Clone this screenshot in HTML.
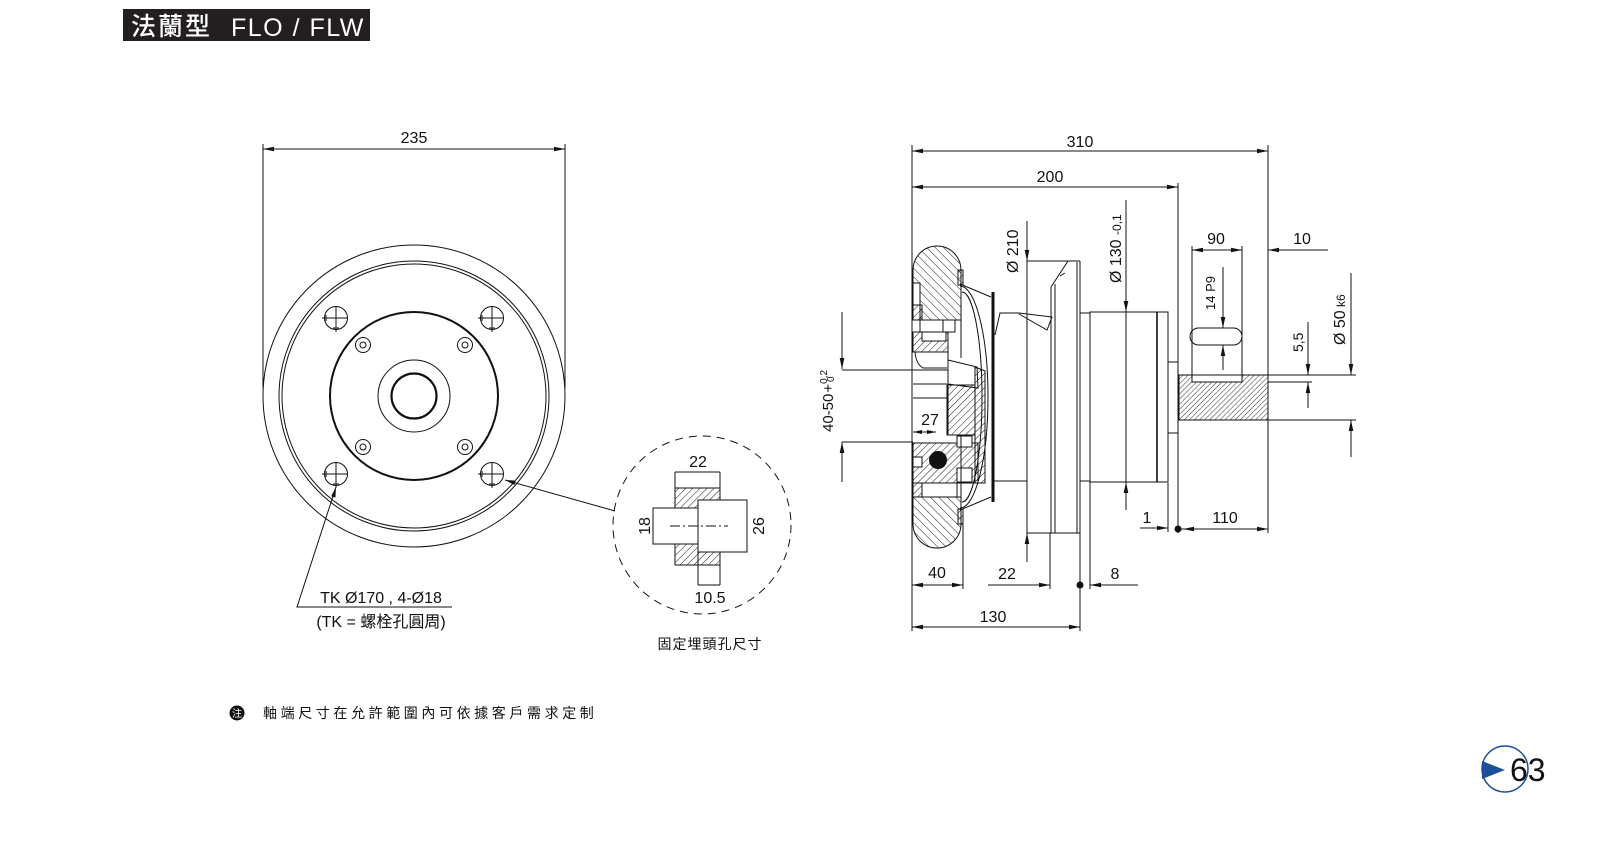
<!DOCTYPE html>
<html><head><meta charset="utf-8"><style>
html,body{margin:0;padding:0;background:#fff;}
svg{display:block;}
text{font-family:"Liberation Sans","Noto Sans CJK TC",sans-serif;fill:#111;stroke:none;}
</style></head><body>
<svg width="1600" height="852" viewBox="0 0 1600 852" xmlns="http://www.w3.org/2000/svg">
<defs>
<pattern id="ha" patternUnits="userSpaceOnUse" width="5" height="5" patternTransform="rotate(45)"><line x1="0" y1="0" x2="0" y2="5" stroke="#000" stroke-width="0.9"/></pattern>
<pattern id="hb" patternUnits="userSpaceOnUse" width="6" height="6" patternTransform="rotate(-45)"><line x1="0" y1="0" x2="0" y2="6" stroke="#000" stroke-width="0.9"/></pattern>
<pattern id="hc" patternUnits="userSpaceOnUse" width="3.6" height="3.6" patternTransform="rotate(45)"><line x1="0" y1="0" x2="0" y2="3.6" stroke="#000" stroke-width="0.8"/></pattern>
</defs>
<rect width="1600" height="852" fill="#fff"/>

<!-- Title -->
<rect x="123" y="9" width="247" height="32" fill="#231f20"/>
<text x="131" y="35" font-size="25" style="fill:#fff;font-family:'Noto Sans CJK TC',sans-serif;font-weight:500" letter-spacing="2">法蘭型</text>
<text x="231" y="36" font-size="25" style="fill:#fff" letter-spacing="1.5">FLO / FLW</text>

<g fill="none" stroke="#111" stroke-width="1">
<!-- ===== LEFT VIEW ===== -->
<line x1="263" y1="149" x2="565" y2="149"/>
<line x1="263" y1="144" x2="263" y2="388"/>
<line x1="565" y1="144" x2="565" y2="388"/>
<circle cx="414" cy="396" r="151"/>
<circle cx="414" cy="396" r="135"/>
<circle cx="414" cy="396" r="132"/>
<circle cx="414" cy="396" r="84" stroke-width="2"/>
<circle cx="414" cy="396" r="36"/>
<circle cx="414" cy="396" r="22.5" stroke-width="2.2"/>
<!-- bolt holes -->
<g>
<circle cx="336" cy="318" r="11.5"/><line x1="322" y1="318" x2="348" y2="318"/><line x1="336" y1="306" x2="336" y2="332"/><line x1="326" y1="315" x2="326" y2="321"/><line x1="333" y1="328" x2="339" y2="328"/>
<circle cx="492" cy="318" r="11.5"/><line x1="478" y1="318" x2="504" y2="318"/><line x1="492" y1="306" x2="492" y2="332"/><line x1="482" y1="315" x2="482" y2="321"/><line x1="489" y1="328" x2="495" y2="328"/>
<circle cx="336" cy="474" r="11.5"/><line x1="322" y1="474" x2="348" y2="474"/><line x1="336" y1="462" x2="336" y2="488"/><line x1="326" y1="471" x2="326" y2="477"/><line x1="333" y1="484" x2="339" y2="484"/>
<circle cx="492" cy="474" r="11.5"/><line x1="478" y1="474" x2="504" y2="474"/><line x1="492" y1="462" x2="492" y2="488"/><line x1="482" y1="471" x2="482" y2="477"/><line x1="489" y1="484" x2="495" y2="484"/>
</g>
<circle cx="363" cy="345" r="7.5"/><circle cx="363" cy="345" r="3"/>
<circle cx="465" cy="345" r="7.5"/><circle cx="465" cy="345" r="3"/>
<circle cx="363" cy="447" r="7.5"/><circle cx="363" cy="447" r="3"/>
<circle cx="465" cy="447" r="7.5"/><circle cx="465" cy="447" r="3"/>
<!-- leaders -->
<polyline points="336,487 297,607 452,607"/>
<line x1="505" y1="480" x2="615" y2="511"/>

<!-- ===== DETAIL ===== -->
<circle cx="702" cy="525" r="89" stroke-dasharray="8,6"/>
<polygon points="675,488 720,488 720,500 698,500 698,508 675,508" fill="url(#ha)"/>
<polygon points="675,544 698,544 698,552 720,552 720,565 675,565" fill="url(#ha)"/>
<line x1="675" y1="472" x2="720" y2="472"/>
<line x1="675" y1="472" x2="675" y2="508"/>
<line x1="720" y1="472" x2="720" y2="500"/>
<line x1="675" y1="544" x2="675" y2="565"/>
<line x1="720" y1="552" x2="720" y2="585"/>
<line x1="675" y1="565" x2="720" y2="565"/>
<rect x="653" y="508" width="45" height="36"/>
<rect x="698" y="500" width="49" height="52"/>
<line x1="698" y1="552" x2="698" y2="585"/>
<line x1="698" y1="585" x2="720" y2="585"/>
<line x1="670" y1="526" x2="728" y2="526" stroke-dasharray="10,3,2,3"/>

<!-- ===== RIGHT VIEW ===== -->
<line x1="912" y1="151" x2="1268" y2="151"/>
<line x1="912" y1="187" x2="1178" y2="187"/>
<line x1="912" y1="145" x2="912" y2="631"/>
<line x1="1268" y1="145" x2="1268" y2="533"/>
<line x1="1178" y1="183" x2="1178" y2="533"/>
<line x1="1027" y1="221" x2="1027" y2="562"/>
<line x1="1126" y1="200" x2="1126" y2="510"/>
<line x1="1192" y1="246" x2="1192" y2="375"/>
<line x1="1242" y1="246" x2="1242" y2="375"/>
<line x1="1192" y1="250" x2="1242" y2="250"/>
<line x1="1268" y1="250" x2="1328" y2="250"/>
<line x1="1223" y1="267" x2="1223" y2="328"/>
<line x1="1223" y1="345" x2="1223" y2="370"/>
<line x1="1308" y1="322" x2="1308" y2="375"/>
<line x1="1308" y1="382" x2="1308" y2="408"/>
<line x1="1351" y1="273" x2="1351" y2="375"/>
<line x1="1351" y1="420" x2="1351" y2="457"/>
<line x1="1268" y1="375" x2="1356" y2="375"/>
<line x1="1268" y1="420" x2="1356" y2="420"/>
<line x1="1268" y1="382" x2="1312" y2="382"/>
<line x1="1140" y1="528" x2="1168" y2="528"/>
<line x1="1168" y1="483" x2="1168" y2="532"/>
<line x1="1178" y1="529" x2="1268" y2="529"/>
<line x1="842" y1="312" x2="842" y2="369"/>
<line x1="842" y1="442" x2="842" y2="482"/>
<line x1="842" y1="370" x2="948" y2="370"/>
<line x1="842" y1="442" x2="913" y2="442"/>
<line x1="912" y1="585" x2="963" y2="585"/>
<line x1="963" y1="524" x2="963" y2="589"/>
<line x1="988" y1="585" x2="1050" y2="585"/>
<line x1="1050" y1="533" x2="1050" y2="589"/>
<line x1="1080" y1="533" x2="1080" y2="631"/>
<line x1="1090" y1="482" x2="1090" y2="589"/>
<line x1="1090" y1="585" x2="1138" y2="585"/>
<line x1="912" y1="627" x2="1080" y2="627"/>
<line x1="913" y1="432" x2="936" y2="432"/>

<!-- tire top -->
<path d="M913,283 V270 A24,24 0 0 1 937,246 A24,24 0 0 1 961,270 V320 H920 V283 Z" fill="url(#hb)"/>
<rect x="913" y="283" width="7" height="22" fill="#fff"/>
<rect x="913" y="305" width="9" height="15" fill="url(#ha)"/>
<rect x="920" y="320" width="35" height="12" fill="#fff"/>
<line x1="943" y1="320" x2="943" y2="332"/>
<rect x="913" y="332" width="35" height="20" fill="url(#ha)"/>
<rect x="922" y="332" width="24" height="9" fill="#fff"/>
<line x1="961" y1="270" x2="961" y2="358"/>
<path d="M915,352 Q916,364 923,368 H947"/>
<line x1="948" y1="332" x2="948" y2="435"/>
<rect x="958" y="270" width="5" height="15" fill="url(#ha)"/>
<!-- hub -->
<polygon points="948,360 977,367 978,388 948,384" fill="#fff"/>
<rect x="947" y="385" width="28" height="50" fill="url(#ha)"/>
<polygon points="975,367 985,371 985,483 975,483" fill="url(#ha)"/>
<line x1="913" y1="398" x2="947" y2="398"/>
<line x1="913" y1="384" x2="947" y2="384"/>
<!-- lower -->
<rect x="913" y="443" width="65" height="40" fill="url(#ha)"/>
<rect x="913" y="457" width="9" height="10" fill="#fff"/>
<rect x="957" y="468" width="15" height="14" fill="#fff"/>
<rect x="957" y="436" width="15" height="11" fill="#fff"/>
<circle cx="938" cy="460" r="8.5" fill="#111"/>
<rect x="913" y="483" width="9" height="14" fill="url(#ha)"/>
<rect x="922" y="483" width="35" height="14" fill="#fff"/>
<path d="M913,497 V524 A24,24 0 0 0 937,548 A24,24 0 0 0 961,524 V497 Z" fill="url(#hb)"/>
<line x1="961" y1="436" x2="961" y2="524"/>
<rect x="958" y="509" width="5" height="15" fill="url(#ha)"/>
<!-- dome -->
<line x1="960" y1="284" x2="991" y2="297"/>
<line x1="960" y1="510" x2="991" y2="497"/>
<path d="M960,286 A28,111 0 0 1 960,508"/>
<path d="M962,292 A20,105 0 0 1 962,502"/>
<line x1="993" y1="292" x2="993" y2="502" stroke-width="3"/>
<!-- blade -->
<polyline points="995,335 1000,313 1019,313 1052,317 1047,330 1019,314"/>
<line x1="993" y1="481" x2="1027" y2="481"/>
<!-- disk -->
<line x1="1027" y1="261" x2="1080" y2="261"/>
<line x1="1027" y1="533" x2="1080" y2="533"/>
<line x1="1051" y1="287" x2="1051" y2="533"/>
<line x1="1055" y1="284" x2="1055" y2="533"/>
<line x1="1077" y1="262" x2="1077" y2="533"/>
<line x1="1080" y1="261" x2="1080" y2="533"/>
<line x1="1051" y1="287" x2="1068" y2="261"/>
<line x1="1060" y1="276" x2="1065" y2="273"/>
<!-- body -->
<rect x="1080" y="313" width="10" height="168"/>
<rect x="1090" y="312" width="78" height="170"/>
<line x1="1157" y1="312" x2="1157" y2="482" stroke-width="1.6"/>
<rect x="1168" y="362" width="10" height="71"/>
<!-- shaft -->
<polygon points="1179,375 1192,375 1192,382 1242,382 1242,375 1268,375 1268,420 1179,420" fill="url(#hc)"/>
<rect x="1178" y="375" width="90" height="45"/>
<line x1="1196" y1="382" x2="1238" y2="382"/>
<rect x="1190" y="328" width="52" height="17" rx="8.5"/>
</g>

<!-- arrowheads -->
<g fill="#111" stroke="none">
<polygon points="263,149 274,146.7 274,151.3"/><polygon points="565,149 554,146.7 554,151.3"/>
<polygon points="336,487 335.4,497.6 331.2,496.2"/>
<polygon points="505,480 515.6,480.6 514.4,485"/>
<polygon points="912,151 923,148.7 923,153.3"/><polygon points="1268,151 1257,148.7 1257,153.3"/>
<polygon points="912,187 923,184.7 923,189.3"/><polygon points="1178,187 1167,184.7 1167,189.3"/>
<polygon points="1027,261 1024.7,250 1029.3,250"/><polygon points="1027,533 1024.7,544 1029.3,544"/>
<polygon points="1126,312 1123.7,301 1128.3,301"/><polygon points="1126,482 1123.7,493 1128.3,493"/>
<polygon points="1192,250 1203,247.7 1203,252.3"/><polygon points="1242,250 1231,247.7 1231,252.3"/>
<polygon points="1268,250 1279,247.7 1279,252.3"/>
<polygon points="1223,328 1220.7,317 1225.3,317"/><polygon points="1223,345 1220.7,356 1225.3,356"/>
<polygon points="1308,375 1305.7,364 1310.3,364"/><polygon points="1308,382 1305.7,393 1310.3,393"/>
<polygon points="1351,375 1348.7,364 1353.3,364"/><polygon points="1351,420 1348.7,431 1353.3,431"/>
<polygon points="1168,528 1157,525.7 1157,530.3"/>
<polygon points="1183,529 1194,526.7 1194,531.3"/><polygon points="1268,529 1257,526.7 1257,531.3"/>
<polygon points="842,369 839.7,358 844.3,358"/><polygon points="842,442 839.7,453 844.3,453"/>
<polygon points="912,585 923,582.7 923,587.3"/><polygon points="963,585 952,582.7 952,587.3"/>
<polygon points="1050,585 1039,582.7 1039,587.3"/>
<polygon points="1090,585 1101,582.7 1101,587.3"/>
<polygon points="912,627 923,624.7 923,629.3"/><polygon points="1080,627 1069,624.7 1069,629.3"/>
<polygon points="913,432 922,430 922,434"/><polygon points="936,432 927,430 927,434"/>
<circle cx="1178" cy="529" r="3.5"/>
<circle cx="1080" cy="585" r="3.5"/>
</g>

<!-- texts -->
<g font-size="16">
<text x="414" y="143" text-anchor="middle">235</text>
<text x="381" y="603" text-anchor="middle">TK Ø170 , 4-Ø18</text>
<text x="381" y="627" text-anchor="middle">(TK = 螺栓孔圓周)</text>
<text x="698" y="467" text-anchor="middle">22</text>
<text x="710" y="603" text-anchor="middle">10.5</text>
<text transform="translate(650,526) rotate(-90)" text-anchor="middle">18</text>
<text transform="translate(764,526) rotate(-90)" text-anchor="middle">26</text>
<text x="710" y="649" text-anchor="middle" font-size="14" letter-spacing="1">固定埋頭孔尺寸</text>

<text x="1080" y="147" text-anchor="middle">310</text>
<text x="1050" y="182" text-anchor="middle">200</text>
<text x="1216" y="244" text-anchor="middle">90</text>
<text x="1302" y="244" text-anchor="middle">10</text>
<text x="1147" y="523" text-anchor="middle">1</text>
<text x="1225" y="523" text-anchor="middle">110</text>
<text x="937" y="578" text-anchor="middle">40</text>
<text x="1007" y="579" text-anchor="middle">22</text>
<text x="1115" y="579" text-anchor="middle">8</text>
<text x="993" y="622" text-anchor="middle">130</text>
<text x="930" y="425" text-anchor="middle">27</text>
<text transform="translate(1018,273) rotate(-90)">Ø 210</text>
<text transform="translate(1121,283) rotate(-90)">Ø 130 <tspan font-size="12">-0,1</tspan></text>
<text transform="translate(1215,310) rotate(-90)" font-size="13">14 P9</text>
<text transform="translate(1303,352) rotate(-90)" font-size="14">5,5</text>
<text transform="translate(1345,345) rotate(-90)">Ø 50<tspan font-size="12"> k6</tspan></text>
<text transform="translate(833,432) rotate(-90)" font-size="15">40-50<tspan dx="1">+</tspan><tspan font-size="10" dy="-6">0,2</tspan><tspan font-size="10" dx="-12" dy="7">0</tspan></text>
</g>

<!-- note -->
<circle cx="237" cy="713" r="7.5" fill="#111"/>
<text x="237" y="717" font-size="10" text-anchor="middle" style="fill:#fff">注</text>
<text x="263" y="718" font-size="14" letter-spacing="3.6">軸端尺寸在允許範圍內可依據客戶需求定制</text>

<!-- page number -->
<circle cx="1505" cy="769" r="23" fill="none" stroke="#1d4e9b" stroke-width="1.5"/>
<polygon points="1482,761 1505,770 1482,779" fill="#1d4e9b"/>
<text x="1510" y="781" font-size="32">63</text>
</svg>
</body></html>
